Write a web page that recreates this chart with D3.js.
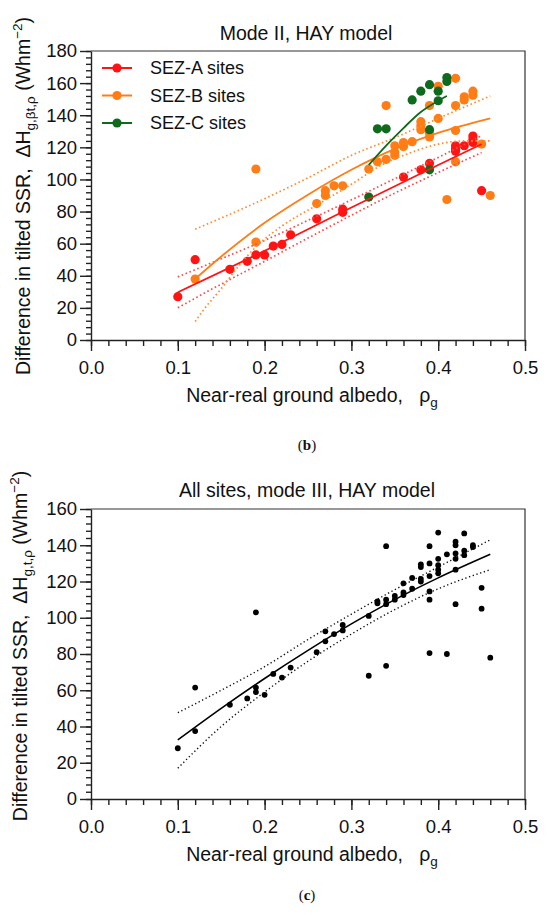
<!DOCTYPE html>
<html>
<head>
<meta charset="utf-8">
<script src="https://cdn.jsdelivr.net/npm/d3@7"></script>
<style>
  body { margin: 0; background: #fff; }
  svg { display: block; }
  text { font-family: "Liberation Sans", Arial, sans-serif; fill: #111; }
</style>
</head>
<body>
<svg id="chart" width="550" height="916"></svg>
<script>
// ---- Panel (b): Mode II, HAY model ----
const sezAx = [0.10, 0.12, 0.16, 0.18, 0.19, 0.20, 0.21, 0.22, 0.23, 0.26, 0.29, 0.29, 0.36, 0.38, 0.39, 0.42, 0.42, 0.42, 0.43, 0.44, 0.44, 0.44, 0.45];
const sezAy = [27, 50, 44, 49, 53, 53, 58.5, 59.5, 65.5, 75.5, 79.5, 81.5, 101.5, 106, 110, 117.5, 119, 121, 121, 123, 125, 127, 93];

const sezBx = [0.12, 0.19, 0.19, 0.26, 0.27, 0.27, 0.28, 0.29, 0.32, 0.33, 0.34, 0.34, 0.35, 0.35, 0.35, 0.36, 0.36, 0.37, 0.38, 0.38, 0.38, 0.39, 0.39, 0.39, 0.40, 0.40, 0.41, 0.42, 0.42, 0.42, 0.42, 0.43, 0.43, 0.44, 0.44, 0.45, 0.46];
const sezBy = [38, 61, 106.5, 85, 90, 93, 96, 96, 106.5, 111, 112.5, 146, 115, 117, 121, 120.5, 123, 123.5, 131, 133.5, 136, 126.5, 129, 146, 138, 158, 87.5, 111, 130.5, 146, 163, 149.5, 151.5, 152.5, 155, 122, 90];

const sezCx = [0.32, 0.33, 0.34, 0.37, 0.38, 0.39, 0.39, 0.39, 0.40, 0.40, 0.41, 0.41];
const sezCy = [89, 131.5, 131.5, 149.5, 155, 106, 131, 159, 149, 155, 161, 163.5];

// fitted curves and confidence bands
const fitAx = [0.10, 0.20, 0.30, 0.40, 0.45];
const fitAy = [29.7, 55.5, 82.5, 109, 122];
const bandAx = [0.10, 0.15, 0.20, 0.25, 0.30, 0.35, 0.40, 0.45];
const bandAhi = [39.3, 50.6, 62.0, 74.5, 87.3, 100.5, 113.7, 127.3];
const bandAlo = [20.1, 34.8, 49.0, 63.5, 77.7, 91.5, 104.3, 116.7];

const fitBx = [0.12, 0.15, 0.20, 0.25, 0.30, 0.35, 0.40, 0.46];
const fitBy = [38, 52, 73, 90.5, 106, 119, 129, 138];
const bandBhiX = [0.12, 0.20, 0.25, 0.30, 0.35, 0.40, 0.46];
const bandBhi = [69, 88, 101, 115, 126, 138, 152];
const bandBloX = [0.12, 0.13, 0.15, 0.17, 0.19, 0.22, 0.26, 0.30, 0.335, 0.37, 0.40, 0.43, 0.46];
const bandBlo = [11.5, 19, 32, 46, 58, 71, 84, 97, 109, 117, 122, 124, 124];

const fitCx = [0.32, 0.34, 0.36, 0.38, 0.40, 0.41];
const fitCy = [109, 121, 132, 142, 149, 152];

// ---- Panel (c): All sites, mode III, HAY model ----
const allX = [0.10, 0.12, 0.12, 0.16, 0.18, 0.19, 0.19, 0.19, 0.20, 0.21, 0.22, 0.23, 0.26, 0.27, 0.27, 0.28, 0.29, 0.29,
  0.32, 0.32, 0.33, 0.33, 0.34, 0.34, 0.34, 0.34, 0.35, 0.35, 0.36, 0.36, 0.36, 0.37, 0.37, 0.38, 0.38, 0.38, 0.38,
  0.39, 0.39, 0.39, 0.39, 0.39, 0.39, 0.40, 0.40, 0.40, 0.40, 0.40, 0.41, 0.41, 0.42, 0.42, 0.42, 0.42, 0.42, 0.42,
  0.43, 0.43, 0.43, 0.44, 0.44, 0.45, 0.45, 0.46];
const allY = [28, 37.5, 61.5, 52, 55.5, 59, 61.5, 103, 57.5, 69, 67, 72.5, 81, 87, 92.5, 91, 93, 96,
  68, 101, 108, 109, 73.5, 107.5, 110, 139.5, 110, 112, 112.5, 114, 119, 116, 122, 120, 121.5, 128, 129.5,
  80.5, 110, 114.5, 123, 130, 139.5, 124.5, 126.5, 129, 132.5, 147, 80, 135, 107.5, 126.5, 132.5, 135.5, 140, 142,
  134.5, 137, 146.5, 139, 140, 105, 116.5, 78];

const fitAllX = [0.10, 0.15, 0.20, 0.25, 0.30, 0.35, 0.40, 0.46];
const fitAllY = [32.6, 50, 66.5, 82, 96.6, 110, 122, 135];
const bandAllHi = [47.6, 60, 73, 88, 102, 115.5, 128, 143];
const bandAllLo = [17, 40, 59, 76, 91, 104.5, 116, 126.5];

const xTicks = [0, 0.1, 0.2, 0.3, 0.4, 0.5];

const svg = d3.select('#chart');

function zip(xs, ys) {
  return xs.map((v, i) => [v, ys[i]]);
}

function drawPanel(p) {
  const x = d3.scaleLinear().domain([0, 0.5]).range([p.left, p.right]);
  const y = d3.scaleLinear().domain([0, p.yMax]).range([p.bottom, p.top]);
  const g = svg.append('g');

  // top and right frame
  g.append('path')
    .attr('d', `M${p.left},${p.top}H${p.right}V${p.bottom}`)
    .attr('fill', 'none')
    .attr('stroke', '#333')
    .attr('stroke-width', 1.2);

  // minor ticks
  g.append('g')
    .attr('transform', `translate(${p.left},0)`)
    .call(d3.axisLeft(y).tickValues(d3.range(0, p.yMax + 1, 4)).tickSize(5).tickFormat(''))
    .call(a => a.select('.domain').remove());
  g.append('g')
    .attr('transform', `translate(0,${p.bottom})`)
    .call(d3.axisBottom(x).tickValues(d3.range(0, 0.501, 0.02)).tickSize(6).tickFormat(''))
    .call(a => a.select('.domain').remove());

  // major axes
  const yAxis = g.append('g')
    .attr('transform', `translate(${p.left},0)`)
    .call(d3.axisLeft(y).tickValues(d3.range(0, p.yMax + 1, 20)).tickSize(11).tickPadding(3).tickSizeOuter(0));
  const xAxis = g.append('g')
    .attr('transform', `translate(0,${p.bottom})`)
    .call(d3.axisBottom(x).tickValues(xTicks).tickSize(11).tickPadding(10).tickSizeOuter(0).tickFormat(d3.format('.1f')));
  [yAxis, xAxis].forEach(a => {
    a.selectAll('text').style('font-size', '18.5px').attr('fill', '#111')
      .style('font-family', '"Liberation Sans", Arial, sans-serif');
  });
  g.selectAll('.domain, .tick line').attr('stroke', '#222').attr('stroke-width', 1.4);

  // title
  g.append('text')
    .attr('x', p.titleX).attr('y', p.titleY)
    .attr('text-anchor', 'middle')
    .style('font-size', '19.5px')
    .text(p.title);

  // x label
  const xl = g.append('text')
    .attr('x', p.xLabelX).attr('y', p.xLabelY)
    .attr('text-anchor', 'middle')
    .style('font-size', '19.5px')
    .style('white-space', 'pre');
  xl.append('tspan').text('Near-real ground albedo,   ρ');
  xl.append('tspan').attr('dy', 5).style('font-size', '13.5px').text('g');

  // y label
  const yl = g.append('text')
    .attr('transform', `translate(${p.yLabelX},${p.yLabelCY}) rotate(-90)`)
    .attr('text-anchor', 'middle')
    .style('font-size', '19.5px')
    .style('white-space', 'pre');
  yl.append('tspan').text('Difference in tilted SSR,  ΔH');
  yl.append('tspan').attr('dy', 5).style('font-size', '13.5px').text(p.sub);
  yl.append('tspan').attr('dy', -5).text(' (Whm');
  yl.append('tspan').attr('dy', -8).style('font-size', '13.5px').text('−2');
  yl.append('tspan').attr('dy', 8).text(')');

  // panel letter
  const lt = g.append('text')
    .attr('x', p.letterX).attr('y', p.letterY)
    .attr('text-anchor', 'middle')
    .style('font-family', '"Liberation Serif", "Times New Roman", serif')
    .style('font-size', '15px');
  lt.append('tspan').text('(');
  lt.append('tspan').style('font-weight', 'bold').text(p.letter);
  lt.append('tspan').text(')');

  return { g, x, y };
}

function dots(panel, xs, ys, color, r) {
  panel.g.append('g')
    .selectAll('circle')
    .data(zip(xs, ys))
    .join('circle')
    .attr('cx', d => panel.x(d[0]))
    .attr('cy', d => panel.y(d[1]))
    .attr('r', r)
    .attr('fill', color);
}

function curve(panel, xs, ys, color, width, dash) {
  const line = d3.line()
    .x(d => panel.x(d[0]))
    .y(d => panel.y(d[1]))
    .curve(d3.curveMonotoneX);
  panel.g.append('path')
    .datum(zip(xs, ys))
    .attr('d', line)
    .attr('fill', 'none')
    .attr('stroke', color)
    .attr('stroke-width', width)
    .attr('stroke-dasharray', dash || null);
}

const red = '#ff1414', orange = '#ff7d14', green = '#0f6a1e';
const redDot = '#ff4a4a', orangeDot = '#ff8c30';

// ---- panel (b)
const pb = drawPanel({
  left: 91, right: 525, top: 51, bottom: 340, yMax: 180,
  title: 'Mode II, HAY model', titleX: 306, titleY: 40,
  xLabelX: 312, xLabelY: 402, yLabelX: 30, yLabelCY: 196, sub: 'g,βt,ρ',
  letter: 'b', letterX: 307, letterY: 450
});
dots(pb, sezAx, sezAy, red, 4.6);
dots(pb, sezBx, sezBy, orange, 4.6);
dots(pb, sezCx, sezCy, green, 4.6);
curve(pb, bandAx, bandAhi, redDot, 1.7, '1.6,2.6');
curve(pb, bandAx, bandAlo, redDot, 1.7, '1.6,2.6');
curve(pb, bandBhiX, bandBhi, orangeDot, 1.7, '1.6,2.6');
curve(pb, bandBloX, bandBlo, orangeDot, 1.7, '1.6,2.6');
curve(pb, fitAx, fitAy, red, 1.8);
curve(pb, fitBx, fitBy, orange, 1.8);
curve(pb, fitCx, fitCy, green, 1.8);

// legend
const legendNames = ['SEZ-A sites', 'SEZ-B sites', 'SEZ-C sites'];
const legendColors = [red, orange, green];
const legend = pb.g.append('g');
legendNames.forEach((name, i) => {
  const ly = 68 + i * 27.5;
  legend.append('line')
    .attr('x1', 102).attr('x2', 132).attr('y1', ly).attr('y2', ly)
    .attr('stroke', legendColors[i]).attr('stroke-width', 2);
  legend.append('circle')
    .attr('cx', 117).attr('cy', ly).attr('r', 4.6)
    .attr('fill', legendColors[i]);
  legend.append('text')
    .attr('x', 150).attr('y', ly).attr('dy', '0.36em')
    .style('font-size', '18px')
    .text(name);
});

// ---- panel (c)
const pc = drawPanel({
  left: 91, right: 525, top: 509, bottom: 799, yMax: 160,
  title: 'All sites, mode III, HAY model', titleX: 307, titleY: 497,
  xLabelX: 312, xLabelY: 861, yLabelX: 27, yLabelCY: 646, sub: 'g,t,ρ',
  letter: 'c', letterX: 307, letterY: 900
});
dots(pc, allX, allY, '#000', 2.9);
curve(pc, fitAllX, bandAllHi, '#111', 1.4, '1.3,2.6');
curve(pc, fitAllX, bandAllLo, '#111', 1.4, '1.3,2.6');
curve(pc, fitAllX, fitAllY, '#000', 1.6);
</script>
</body>
</html>
